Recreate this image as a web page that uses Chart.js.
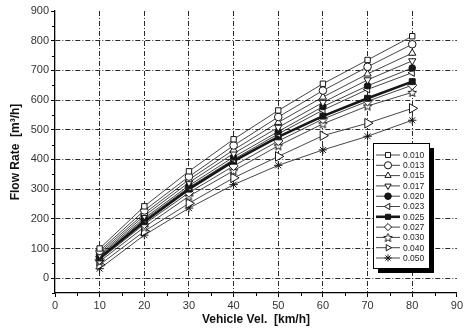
<!DOCTYPE html>
<html>
<head>
<meta charset="utf-8">
<script src="https://cdn.jsdelivr.net/npm/chart.js@4.4.0/dist/chart.umd.min.js"></script>
<style>
  html, body { margin: 0; padding: 0; background: #fff; }
</style>
</head>
<body>
<canvas id="flowChart" width="465" height="329"></canvas>
<script>
// Flow rate vs vehicle velocity, one line per coefficient
const velocities = [10, 20, 30, 40, 50, 60, 70, 80];
const seriesLabels = ['0.010', '0.013', '0.015', '0.017', '0.020', '0.023', '0.025', '0.027', '0.030', '0.040', '0.050'];

const s010 = [100, 242, 360, 468, 565, 655, 735, 815];
const s013 = [92, 228, 342, 447, 543, 632, 712, 788];
const s015 = [86, 218, 332, 432, 525, 610, 688, 758];
const s017 = [80, 210, 322, 420, 508, 592, 668, 732];
const s020 = [76, 202, 312, 408, 494, 578, 648, 708];
const s023 = [72, 197, 306, 400, 486, 566, 636, 692];
const s025 = [68, 190, 300, 394, 476, 546, 606, 662];
const s027 = [62, 182, 288, 378, 462, 536, 596, 650];
const s030 = [56, 172, 276, 362, 446, 520, 580, 626];
const s040 = [45, 158, 252, 338, 410, 480, 522, 572];
const s050 = [32, 145, 236, 315, 380, 432, 478, 532];

const xTicks = [0, 10, 20, 30, 40, 50, 60, 70, 80, 90];
const yTicks = [0, 100, 200, 300, 400, 500, 600, 700, 800, 900];

const INK = '#161616';
const GRID = '#2a2a2a';

// five-point open star (Chart.js has no such point style)
function starImage(r) {
    const size = Math.ceil(r * 2 + 4);
    const c = document.createElement('canvas');
    c.width = size; c.height = size;
    const g = c.getContext('2d');
    g.translate(size / 2, size / 2 + 0.5);
    g.beginPath();
    for (let i = 0; i < 10; i++) {
        const rad = i % 2 ? r * 0.45 : r;
        const a = -Math.PI / 2 + i * Math.PI / 5;
        g.lineTo(rad * Math.cos(a), rad * Math.sin(a));
    }
    g.closePath();
    g.fillStyle = '#fff';
    g.fill();
    g.strokeStyle = INK;
    g.lineWidth = 1;
    g.stroke();
    return c;
}

const star = starImage(4.5);

const markers = [
    { style: 'rect', rot: 0, fill: '#fff', r: 3.8 },
    { style: 'circle', rot: 0, fill: '#fff', r: 3.8 },
    { style: 'triangle', rot: 0, fill: '#fff', r: 4.2 },
    { style: 'triangle', rot: 180, fill: '#fff', r: 4.2 },
    { style: 'circle', rot: 0, fill: INK, r: 3.3 },
    { style: 'triangle', rot: 270, fill: '#fff', r: 4.2 },
    { style: 'rect', rot: 0, fill: INK, r: 4.2 },
    { style: 'rectRot', rot: 0, fill: '#fff', r: 4.6 },
    { style: star, rot: 0, fill: '#fff', r: 4.5 },
    { style: 'triangle', rot: 90, fill: '#fff', r: 5.5 },
    { style: 'star', rot: 0, fill: '#fff', r: 4.2 }
];

const allSeries = [s010, s013, s015, s017, s020, s023, s025, s027, s030, s040, s050];

const datasets = allSeries.map((vals, i) => ({
    label: seriesLabels[i],
    data: vals.map((v, j) => ({ x: velocities[j], y: v })),
    borderColor: INK,
    borderWidth: i === 6 ? 2.6 : 0.8,
    pointStyle: markers[i].style,
    pointRotation: markers[i].rot,
    pointRadius: markers[i].r,
    pointBackgroundColor: markers[i].fill,
    pointBorderColor: INK,
    pointBorderWidth: 1,
    fill: false,
    tension: 0
}));

// minor ticks at the half steps
const minorTicks = {
    id: 'minorTicks',
    afterDraw(chart) {
        const { ctx, scales: { x, y } } = chart;
        ctx.save();
        ctx.strokeStyle = '#000';
        ctx.lineWidth = 1;
        ctx.beginPath();
        for (let v = 5; v < 90; v += 10) {
            const px = Math.round(x.getPixelForValue(v)) + 0.5;
            ctx.moveTo(px, x.top); ctx.lineTo(px, x.top + 3);
        }
        for (let v = -50; v < 900; v += 100) {
            const py = Math.round(y.getPixelForValue(v)) + 0.5;
            ctx.moveTo(y.right - 3, py); ctx.lineTo(y.right, py);
        }
        ctx.stroke();
        ctx.restore();
    }
};

// boxed legend with drop shadow inside the plot
const boxLegend = {
    id: 'boxLegend',
    afterDraw(chart) {
        const ctx = chart.ctx;
        const left = 373, top = 143, w = 56, h = 125;
        ctx.save();
        ctx.fillStyle = '#000';
        ctx.fillRect(left + 5, top + 5, w, h);
        ctx.fillStyle = '#fff';
        ctx.fillRect(left, top, w, h);
        ctx.strokeStyle = '#000';
        ctx.lineWidth = 1;
        ctx.strokeRect(left + 0.5, top + 0.5, w, h);
        ctx.font = '8.5px Arial, "Liberation Sans", sans-serif';
        ctx.textBaseline = 'middle';
        chart.data.datasets.forEach((ds, i) => {
            const yy = top + 12 + i * 10.3;
            ctx.strokeStyle = INK;
            ctx.lineWidth = ds.borderWidth;
            ctx.beginPath();
            ctx.moveTo(376, yy); ctx.lineTo(400, yy);
            ctx.stroke();
            ctx.lineWidth = 1;
            ctx.fillStyle = ds.pointBackgroundColor;
            Chart.helpers.drawPoint(ctx, {
                pointStyle: ds.pointStyle,
                rotation: ds.pointRotation,
                radius: Math.min(ds.pointRadius, 3.6),
                borderWidth: 1
            }, 388, yy);
            ctx.fillStyle = '#222';
            ctx.fillText(ds.label, 403, yy + 0.5);
        });
        ctx.restore();
    }
};

const tickFont = { family: 'Arial, "Liberation Sans", sans-serif', size: 11 };
const titleFont = { family: 'Arial, "Liberation Sans", sans-serif', size: 12, weight: 'bold' };

new Chart(document.getElementById('flowChart'), {
    type: 'line',
    data: { datasets },
    options: {
        responsive: false,
        animation: false,
        layout: { padding: { top: 11, right: 8, left: 0, bottom: 0 } },
        plugins: {
            legend: { display: false },
            tooltip: { enabled: false }
        },
        scales: {
            x: {
                type: 'linear',
                min: 0,
                max: 90,
                afterBuildTicks: s => { s.ticks = xTicks.map(v => ({ value: v })); },
                afterFit: s => { s.height = 36; },
                grid: {
                    color: c => (c.tick && (c.tick.value === 0 || c.tick.value === 90)) ? 'rgba(0,0,0,0)' : GRID,
                    lineWidth: 1,
                    tickLength: 4,
                    tickColor: '#000'
                },
                border: { display: true, color: '#000', width: 1.3, dash: [5, 2, 1, 2] },
                ticks: { font: tickFont, color: '#333', padding: 2, maxRotation: 0 },
                title: { display: true, text: 'Vehicle Vel.  [km/h]', font: titleFont, color: '#111', padding: { top: 0, bottom: 2 } }
            },
            y: {
                min: -50,
                max: 900,
                afterBuildTicks: s => { s.ticks = yTicks.map(v => ({ value: v })); },
                afterFit: s => { s.width = 55; },
                grid: {
                    color: c => (c.tick && c.tick.value === 900) ? 'rgba(0,0,0,0)' : GRID,
                    lineWidth: 1,
                    tickLength: 4,
                    tickColor: '#000'
                },
                border: { display: true, color: '#000', width: 1.3, dash: [5, 2, 1, 2] },
                ticks: { font: tickFont, color: '#333', padding: 2 },
                title: { display: true, text: 'Flow Rate  [m³/h]', font: titleFont, color: '#111', padding: { top: 8, bottom: 0 } }
            }
        }
    },
    plugins: [minorTicks, boxLegend]
});
</script>
</body>
</html>
